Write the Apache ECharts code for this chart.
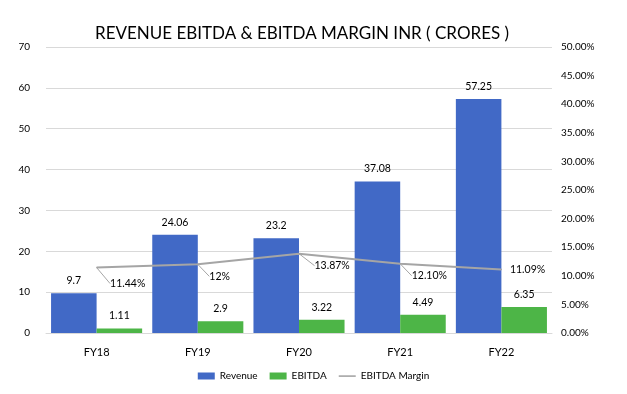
<!DOCTYPE html>
<html><head><meta charset="utf-8">
<script src="https://cdn.jsdelivr.net/npm/echarts@6/dist/echarts.min.js"></script>
<style>html,body{margin:0;padding:0;background:#fff}#c{width:627px;height:394px}</style>
</head><body><div id="c"></div>
<script>
var categories = ['FY18','FY19','FY20','FY21','FY22'];
var revenue = [9.7, 24.06, 23.2, 37.08, 57.25];
var ebitda = [1.11, 2.9, 3.22, 4.49, 6.35];
var margin = [11.44, 12, 13.87, 12.10, 11.09];
var marginLabels = ['11.44%','12%','13.87%','12.10%','11.09%'];

var FONT = 'Lato, "Open Sans", sans-serif';
var labelDx = [5, 3, 7, 3, 0];
var labelDy = [16, 12, 12, 12, 0];
var marginData = margin.map(function(v, i){
  return i === 4 ? {value: v, labelLine: {show: false}} : v;
});
var chart = echarts.init(document.getElementById('c'));
chart.setOption({
  animation: false,
  textStyle: {fontFamily: FONT, color: '#000'},
  title: {text: 'REVENUE EBITDA & EBITDA MARGIN INR ( CRORES )', left: 90, top: 20,
    textStyle: {fontFamily: FONT, fontSize: 17, fontWeight: 'normal', color: '#000'}},
  legend: {bottom: 8, left: 'center', itemWidth: 17, itemHeight: 7, itemGap: 12,
    textStyle: {fontFamily: FONT, fontSize: 10, color: '#000'},
    data: [{name:'Revenue', icon:'rect'}, {name:'EBITDA', icon:'rect'},
      {name:'EBITDA Margin', icon:'path://M0,0L0,0M0,2.8h17v1.6h-17zM17,7L17,7'}]},
  grid: {left: 46, right: 75, top: 47, bottom: 61},
  xAxis: {type: 'category', data: categories,
    axisLine: {lineStyle: {color: '#D9D9D9'}}, axisTick: {show: false},
    axisLabel: {color: '#000', fontSize: 11, margin: 14, fontFamily: FONT}},
  yAxis: [
    {type: 'value', min: 0, max: 70, interval: 10,
      axisLabel: {color: '#000', fontSize: 10, margin: 16, fontFamily: FONT},
      splitLine: {lineStyle: {color: '#D9D9D9'}}, axisLine: {show: false}, axisTick: {show: false}},
    {type: 'value', min: 0, max: 50, interval: 5, position: 'right',
      axisLabel: {color: '#000', fontSize: 10, margin: 9, fontFamily: FONT,
        formatter: function(v){ return v.toFixed(2) + '%'; }},
      splitLine: {show: false}, axisLine: {show: false}, axisTick: {show: false}}
  ],
  series: [
    {name: 'Revenue', type: 'bar', data: revenue, barGap: '0%', barCategoryGap: '10%',
      itemStyle: {color: '#4169C6'},
      label: {show: true, position: 'top', distance: 7, color: '#000', fontSize: 10.5, fontFamily: FONT}},
    {name: 'EBITDA', type: 'bar', data: ebitda,
      itemStyle: {color: '#4DB547'},
      label: {show: true, position: 'top', distance: 7, color: '#000', fontSize: 10.5, fontFamily: FONT}},
    {name: 'EBITDA Margin', type: 'line', yAxisIndex: 1, data: marginData,
      symbol: 'circle', symbolSize: 1, showSymbol: true,
      lineStyle: {color: '#A5A5A5', width: 2}, itemStyle: {color: '#A5A5A5'},
      label: {show: true, position: 'right', distance: 8, color: '#000', fontSize: 10.5, fontFamily: FONT,
        formatter: function(p){ return marginLabels[p.dataIndex]; }},
      labelLine: {show: true, lineStyle: {color: '#A5A5A5', width: 1}},
      labelLayout: function(p){
        return {dx: labelDx[p.dataIndex], dy: labelDy[p.dataIndex]};
      }}
  ]
});
</script></body></html>
